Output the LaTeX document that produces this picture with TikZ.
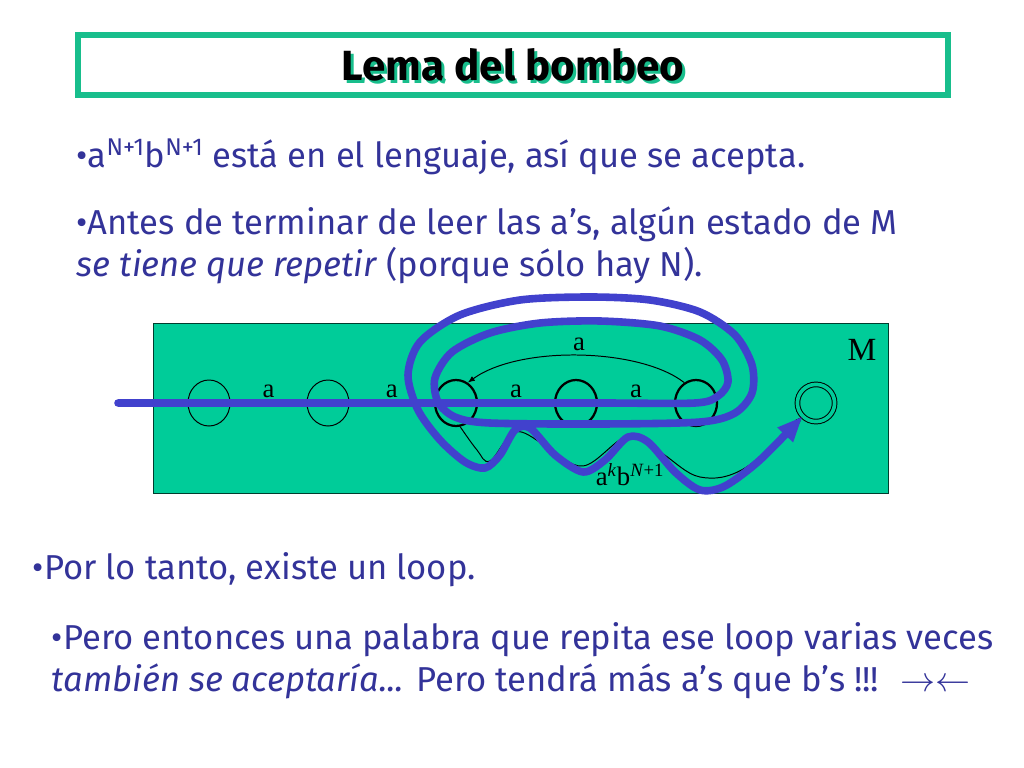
\documentclass[tikz,border=0pt]{standalone}
\usepackage{fontspec}
\setmainfont{Fira Sans}
\newfontfamily\timesf{Liberation Serif}
\usetikzlibrary{shapes.geometric,arrows.meta}
\definecolor{textblue}{RGB}{51,51,153}
\definecolor{loopblue}{RGB}{65,65,205}
\definecolor{boxgreen}{RGB}{0,204,153}
\definecolor{titlegreen}{RGB}{24,190,140}
\tikzset{
  state/.style={ellipse,draw,minimum width=1.05cm,minimum height=1.15cm,inner sep=0pt,line width=0.7pt},
  thick state/.style={state,line width=1.6pt},
  final state/.style={circle,draw,line width=0.7pt,double=boxgreen,double distance=2.6pt,minimum size=0.93cm,inner sep=0pt},
  trans/.style={-{Latex[length=5pt,width=4pt]},line width=0.7pt},
  lbl/.style={font=\timesf\fontsize{19}{19}\selectfont},
  bullet/.style={anchor=base west,text=textblue,font=\fontsize{24.6}{28}\selectfont},
  run/.style={draw=loopblue,line width=5.4pt,line cap=round,line join=round}
}
\newcommand\shadowtext[1]{\makebox[0pt][l]{\hspace{2pt}\raisebox{-2pt}{\color{titlegreen}#1}}#1}
\begin{document}
\begin{tikzpicture}[x=0.025cm,y=-0.025cm]
  \useasboundingbox (0,0) rectangle (1024,768);
  \draw[titlegreen,line width=3.6pt] (78,35) rectangle (948,95);
  \node[font=\bfseries\fontsize{30}{30}\selectfont] (title) at (513,66) {\shadowtext{Lema del bombeo}};

  \node[bullet] (l1) at (72,168) {\textbullet a\textsuperscript{N+1}b\textsuperscript{N+1} está en el lenguaje, así que se acepta.};
  \node[bullet] (l2) at (72,234) {\textbullet Antes de terminar de leer las a’s, algún estado de M};
  \node[bullet] (l3) at (72,276) {\textit{se tiene que repetir} (porque sólo hay N).};

  \draw[fill=boxgreen,draw=black!70!boxgreen,line width=0.6pt] (153,323) rectangle (888,493);
  \node[lbl,font=\timesf\fontsize{23}{23}\selectfont] (M) at (862,350) {M};

  \coordinate (in) at (118,403);
  \node[state] (s1) at (209,403) {};
  \node[state] (s2) at (328,403) {};
  \node[thick state] (s3) at (456,403) {};
  \node[thick state] (s4) at (576,403) {};
  \node[thick state] (s5) at (696,403) {};
  \node[final state] (fin) at (816,403) {};

  \draw[trans] (in) -- (s1);
  \draw[trans] (s1) -- node[lbl,above] {a} (s2);
  \draw[trans] (s2) -- node[lbl,above] {a} (s3);
  \draw[trans] (s3) -- node[lbl,above] {a} (s4);
  \draw[trans] (s4) -- node[lbl,above] {a} (s5);
  \draw[trans] (s5.120) .. controls (640,348) and (520,345) .. node[lbl,above] {a} (s3.60);
  \draw[trans] plot[smooth,tension=0.6] coordinates {(s3.-80) (477,450) (490,461) (515,432) (545,445) (583,466) (628,436) (660,452) (700,477) (745,468) (fin.south west)};
  \node[lbl,anchor=base] (word) at (630,485) {a\textsuperscript{\textit{k}}b\textsuperscript{\textit{N}+1}};

  \draw[run,-{Triangle[length=18pt,width=14pt]}] plot[smooth,tension=0.5] coordinates {
    (in) (400,403) (600,403) (695,403) (718,396) (728,382) (722,360) (700,340) (660,326)
    (600,321) (540,323) (490,333) (452,352) (435,378) (438,402) (455,417) (490,423)
    (600,424) (700,422) (735,413) (752,393) (752,365) (735,335) (700,312) (650,300)
    (590,297) (520,300) (460,315) (420,342) (408,375) (418,410) (440,440) (465,462)
    (485,468) (500,455) (515,430) (530,428) (555,455) (583,472) (605,460) (628,437)
    (648,442) (675,472) (700,490) (725,486) (760,460) (fin.south west)};

  \node[bullet] (l4) at (28,579) {\textbullet Por lo tanto, existe un loop.};
  \node[bullet] (l5) at (47,649) {\textbullet Pero entonces una palabra que repita ese loop varias veces};
  \node[bullet] (l6) at (47,691) {\textit{también se aceptaría...} Pero tendrá más a’s que b’s !!! \ $\rightarrow\leftarrow$};
\end{tikzpicture}
\end{document}
